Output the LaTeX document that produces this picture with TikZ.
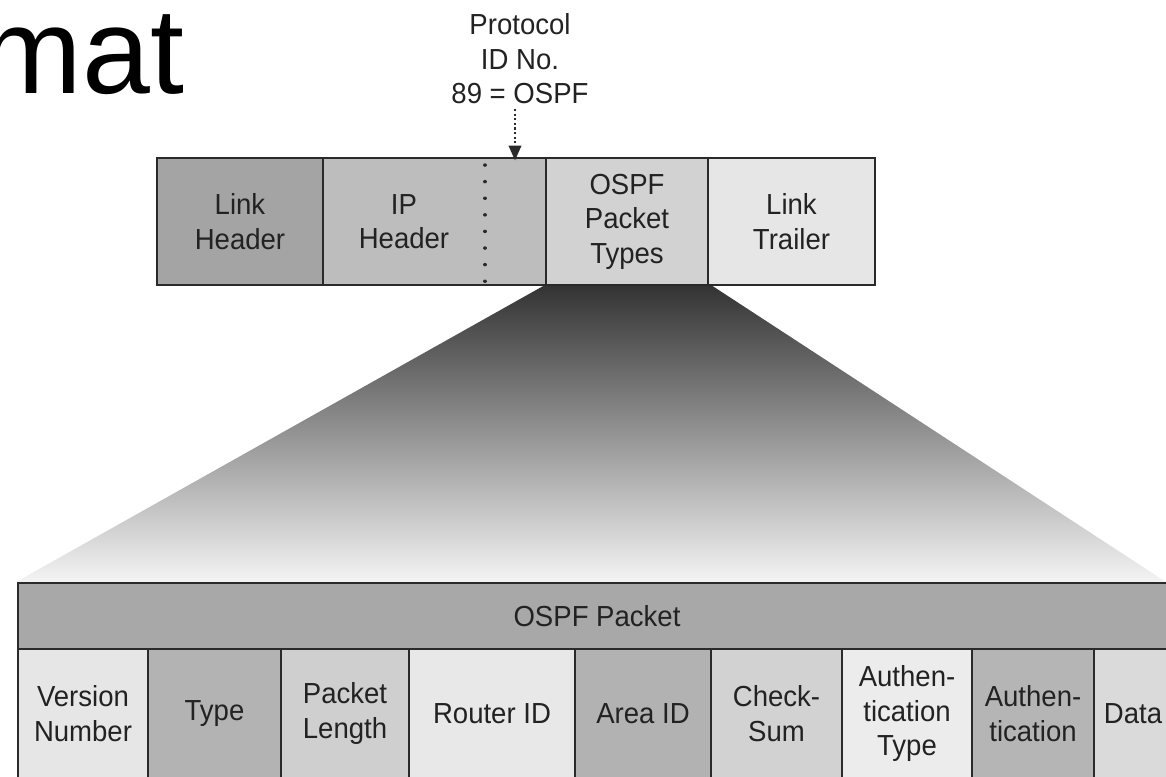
\documentclass[tikz,border=0pt]{standalone}
\usepackage{fontspec}
\setmainfont{Liberation Sans}[FakeStretch=0.95]
\newfontfamily\titlefont{Liberation Sans}
\usetikzlibrary{arrows.meta}
\definecolor{edge}{HTML}{2A2A2A}
\definecolor{txt}{HTML}{222222}
\definecolor{fantop}{HTML}{333333}
\definecolor{fanbot}{HTML}{F4F4F4}
\definecolor{cLH}{HTML}{A4A4A4}
\definecolor{cIP}{HTML}{BDBDBD}
\definecolor{cOPT}{HTML}{D2D2D2}
\definecolor{cLT}{HTML}{E6E6E6}
\definecolor{cBar}{HTML}{A8A8A8}
\definecolor{cVN}{HTML}{E6E6E6}
\definecolor{cTY}{HTML}{B3B3B3}
\definecolor{cPL}{HTML}{CFCFCF}
\definecolor{cRI}{HTML}{E8E8E8}
\definecolor{cAI}{HTML}{B2B2B2}
\definecolor{cCS}{HTML}{D2D2D2}
\definecolor{cAT}{HTML}{ECECEC}
\definecolor{cAU}{HTML}{B5B5B5}
\definecolor{cDA}{HTML}{DADADA}
\begin{document}
\begin{tikzpicture}[x=1pt,y=-1pt,
  lbl/.style={font=\fontsize{29}{34.5}\selectfont, text=txt, align=center, inner sep=0pt},
  cell/.style={lbl, draw=edge, line width=2.7pt, outer sep=0pt, anchor=north west},
  ipdots/.style={draw=edge, line width=3.4pt, dash pattern=on 0.1pt off 16.5pt, line cap=round},
  dotarrow/.style={draw=edge, line width=2.4pt, dash pattern=on 2.2pt off 2.4pt,
    -{Triangle[length=15pt,width=12.5pt]}},
]
\useasboundingbox (0,0) rectangle (1166,776);
\clip (0,0) rectangle (1166,776);

% title fragment
\node[font=\titlefont\fontsize{122}{122}\selectfont, anchor=base east, inner sep=0pt] (title) at (184.5,93) {mat};

% fan
\shade[top color=fantop, bottom color=fanbot] (545,285) -- (711,285) -- (1166,582) -- (16,582) -- cycle;

% top frame
\node[cell, fill=cLH, minimum width=166pt, minimum height=127pt] (lh) at (157,158) {Link\\Header};
\node[cell, fill=cIP, minimum width=223pt, minimum height=127pt] (ip) at (323,158) {};
\node[lbl] (ipt) at (404,221.5) {IP\\Header};
\node[cell, fill=cOPT, minimum width=162pt, minimum height=127pt] (opt) at (546,158) {OSPF\\Packet\\Types};
\node[cell, fill=cLT, minimum width=167pt, minimum height=127pt] (lt) at (708,158) {Link\\Trailer};
\draw[ipdots] (485,165) -- (485,282);

% protocol label and arrow
\node[lbl] (proto) at (520,59) {Protocol\\ID No.\\89 = OSPF};
\coordinate (arrtop) at (515,109);
\draw[dotarrow] (arrtop) -- ([yshift=-2.5pt]arrtop |- ip.north);

% OSPF packet
\node[cell, fill=cBar, minimum width=1158pt, minimum height=66pt] (bar) at (18,583) {OSPF Packet};
\node[cell, fill=cVN, minimum width=130pt, minimum height=129pt] (vn) at (18,649) {Version\\Number};
\node[cell, fill=cTY, minimum width=133pt, minimum height=129pt] (ty) at (148,649) {Type};
\node[cell, fill=cPL, minimum width=128pt, minimum height=129pt] (pl) at (281,649) {Packet\\Length};
\node[cell, fill=cRI, minimum width=166pt, minimum height=129pt] (ri) at (409,649) {Router ID};
\node[cell, fill=cAI, minimum width=136pt, minimum height=129pt] (ai) at (575,649) {Area ID};
\node[cell, fill=cCS, minimum width=131pt, minimum height=129pt] (cs) at (711,649) {Check-\\Sum};
\node[cell, fill=cAT, minimum width=130pt, minimum height=129pt] (at) at (842,649) {Authen-\\tication\\Type};
\node[cell, fill=cAU, minimum width=122pt, minimum height=129pt] (au) at (972,649) {Authen-\\tication};
\node[cell, fill=cDA, minimum width=78pt, minimum height=129pt] (da) at (1094,649) {Data};
\end{tikzpicture}
\end{document}
